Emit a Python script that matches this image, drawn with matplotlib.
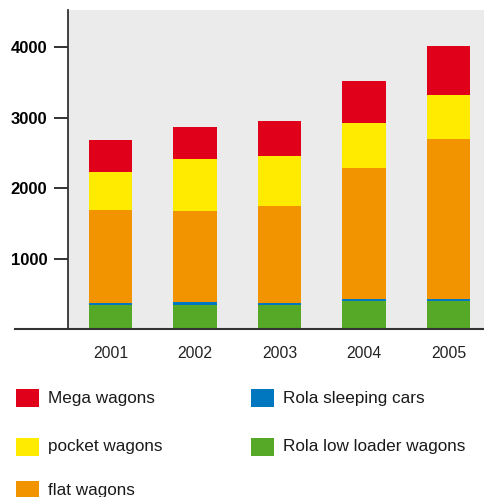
import numpy as np
import matplotlib
matplotlib.use("Agg")
import matplotlib.pyplot as plt
from matplotlib.patches import Rectangle
from matplotlib.lines import Line2D

years = ["2001", "2002", "2003", "2004", "2005"]

# stacked from bottom to top
rola_low_loader = [340, 340, 340, 400, 400]
rola_sleeping = [30, 45, 30, 28, 28]
flat_wagons = [1320, 1290, 1375, 1860, 2270]
pocket_wagons = [540, 740, 710, 640, 625]
mega_wagons = [455, 455, 500, 595, 700]

series = [rola_low_loader, rola_sleeping, flat_wagons, pocket_wagons, mega_wagons]
colors = ["#55a927", "#0077bf", "#f29400", "#ffeb00", "#e1001a"]

legend_labels = ["Mega wagons", "pocket wagons", "flat wagons",
                 "Rola sleeping cars", "Rola low loader wagons"]
legend_colors = ["#e1001a", "#ffeb00", "#f29400", "#0077bf", "#55a927"]

yticks = [1000, 2000, 3000, 4000]

sans = ["Liberation Sans", "DejaVu Sans"]

W, H = 484, 497
fig = plt.figure(figsize=(W / 100, H / 100), dpi=100)
ax = fig.add_axes([68 / W, (H - 329) / H, (W - 68) / W, (329 - 10) / H])
ax.set_facecolor("#ebebeb")

x = np.arange(len(years))
bottom = np.zeros(len(years))
for vals, c in zip(series, colors):
    ax.bar(x, vals, width=0.51, bottom=bottom, color=c, linewidth=0, zorder=2)
    bottom += np.array(vals)

ax.set_xlim(-0.503, 4.42)
ax.set_ylim(0, 4530)

ax.set_yticks(yticks)
ax.set_yticklabels([str(v) for v in yticks], fontsize=12, fontweight="bold",
                   family=sans)
ax.tick_params(axis="y", length=10, width=1.3, color="#222222", pad=5)

ax.set_xticks(x)
ax.set_xticklabels(years, fontsize=11.3, family=sans, color="#222222")
ax.tick_params(axis="x", length=0, pad=12)

for s in ["top", "right", "bottom"]:
    ax.spines[s].set_visible(False)
ax.spines["left"].set_linewidth(1.3)
ax.spines["left"].set_color("#333333")

# baseline running under the tick labels
fig.add_artist(Line2D([15 / W, 1.0], [(H - 329) / H] * 2, color="#333333",
                      linewidth=1.5, transform=fig.transFigure))

# legend
row_y = [398, 447, 490]
col_x = [16, 251]
for i, (lab, c) in enumerate(zip(legend_labels, legend_colors)):
    col = 0 if i < 3 else 1
    row = i if i < 3 else i - 3
    px, py = col_x[col], row_y[row]
    fig.add_artist(Rectangle((px / W, (H - py - 9) / H), 23 / W, 18 / H,
                             facecolor=c, edgecolor="none",
                             transform=fig.transFigure))
    fig.text((px + 32) / W, (H - py) / H, lab, fontsize=12.3, family=sans,
             va="center", ha="left", color="#1a1a1a")

fig.savefig("out.png", dpi=100)
